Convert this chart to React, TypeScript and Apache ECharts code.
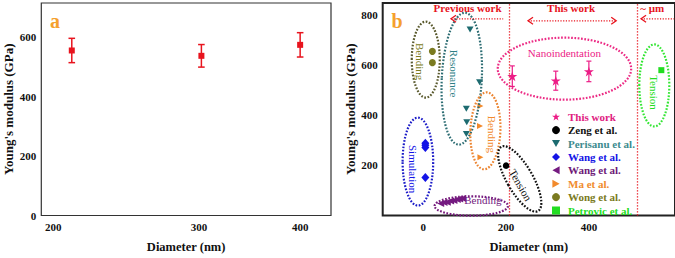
import React, { useEffect, useRef } from "react";
import * as echarts from "echarts";

const SERIF = "'Liberation Serif', 'Times New Roman', serif";

// ---- data ----
const diameters = [215, 320, 400];
const modulus = [556, 538, 575];
const modulusErr = [41, 38, 41];

const zeng = [[200, 199]];
const perisanu = [[113, 742], [136, 532], [104, 426], [105, 372], [104, 325]];
const wangSim = [[5, 288], [5, 280], [5, 271], [5, 152]];
const wangBend = [[42, 48], [50, 52], [58, 53], [66, 58], [74, 60], [82, 64], [88, 66], [95, 68]];
const ma = [[138, 437], [137, 357], [138, 232]];
const wong = [[22, 655], [22, 610]];
const petrovic = [[575, 580]];

const xLabelPosA = [200, 318, 400];
const xLabelTextA = ["200", "300", "400"];
const yTicksA = [0, 200, 400, 600];
const xTicksB = [0, 200, 400];
const yTicksB = [200, 400, 600, 800];
const regionBounds = [207, 516];

// ---- colours ----
const C = {
  red: "#e8141e",
  pink: "#ec1c86",
  black: "#111111",
  teal: "#2f7f86",
  blue: "#1414e6",
  purple: "#741a80",
  orange: "#f28a2c",
  olive: "#7a7a20",
  green: "#22dd22",
  panel: "#f5a02e",
};

const STAR = "path://M50,0 L61.2,34.5 L97.6,34.5 L68.2,55.9 L79.4,90.5 L50,69.1 L20.6,90.5 L31.8,55.9 L2.4,34.5 L38.8,34.5 Z";
const TRI_DOWN = "path://M0,0 L10,0 L5,9 Z";
const TRI_LEFT = "path://M9,0 L9,10 L0,5 Z";
const TRI_RIGHT = "path://M0,0 L0,10 L9,5 Z";

// annotations (panel b, data coordinates)
const ellipses = [
  { c: [6, 622], rx: 14, ry: 38, rot: 0, color: "#5a5a2e" },
  { c: [93, 546], rx: 20, ry: 66, rot: -0.05, color: "#2d6d73" },
  { c: [150, 338], rx: 15, ry: 38.5, rot: -0.04, color: "#ec8430" },
  { c: [-13, 215], rx: 15.3, ry: 44, rot: 0, color: "#1c1cc8" },
  { c: [116, 38], rx: 36.7, ry: 9.7, rot: 0, color: "#761a7c" },
  { c: [233, 146], rx: 13, ry: 37, rot: 0.52, color: "#111111" },
  { c: [341, 586], rx: 66.7, ry: 31, rot: 0, color: "#ec2a84" },
  { c: [558, 519], rx: 15, ry: 41, rot: 0, color: "#33e633" },
];
const notes = [
  { text: "Bending", at: [-8, 614], rot: -90, color: C.olive, size: 11, bold: false },
  { text: "Resonance", at: [74, 566], rot: -90, color: C.teal, size: 11, bold: false },
  { text: "Bending", at: [165, 324], rot: -90, color: C.orange, size: 11, bold: false },
  { text: "Simulation", at: [-25, 185], rot: -90, color: C.blue, size: 11, bold: false },
  { text: "Bending", at: [144, 62], rot: 0, color: C.purple, size: 11, bold: false },
  { text: "Tension", at: [235, 122], rot: -60, color: C.black, size: 11, bold: false },
  { text: "Nanoindentation", at: [341, 650], rot: 0, color: C.pink, size: 11, bold: false },
  { text: "Tension", at: [558, 491], rot: -90, color: C.green, size: 11, bold: false },
  { text: "Previous work", at: [107, 828], rot: 0, color: C.red, size: 11, bold: true },
  { text: "This work", at: [357, 828], rot: 0, color: C.red, size: 11, bold: true },
  { text: "~ µm", at: [553, 828], rot: 0, color: C.red, size: 11, bold: true },
];
const arrows = [
  { from: 67, to: 193, y: 785, heads: ["start"] },
  { from: 253, to: 466, y: 777, heads: ["start", "end"] },
  { from: 526, to: 606, y: 785, heads: ["start"] },
];

const errBar = (color: string, cap: number, lw: number) => (_p: any, api: any) => {
  const x = api.value(0);
  const y = api.value(1);
  const e = api.value(2);
  const top = api.coord([x, y + e]);
  const bot = api.coord([x, y - e]);
  const style = { stroke: color, lineWidth: lw };
  return {
    type: "group",
    children: [
      { type: "line", shape: { x1: top[0], y1: top[1], x2: bot[0], y2: bot[1] }, style },
      { type: "line", shape: { x1: top[0] - cap, y1: top[1], x2: top[0] + cap, y2: top[1] }, style },
      { type: "line", shape: { x1: bot[0] - cap, y1: bot[1], x2: bot[0] + cap, y2: bot[1] }, style },
    ],
  };
};

const tickLabel = {
  fontFamily: SERIF,
  fontSize: 11,
  fontWeight: "bold" as const,
  color: "#111",
};
const axisName = {
  fontFamily: SERIF,
  fontSize: 12.5,
  fontWeight: "bold" as const,
  color: "#111",
};

export default function App() {
  const ref = useRef<HTMLDivElement>(null);
  useEffect(() => {
    if (!ref.current) return;
    const chart = echarts.init(ref.current, undefined, { renderer: "svg" });
    const thisWork = diameters.map((d, i) => [d, modulus[i]]);
    const errData = diameters.map((d, i) => [d, modulus[i], modulusErr[i]]);
    const sc = (name: string, data: number[][], symbol: string, size: any, color: string, extra: any = {}) => ({
      type: "scatter",
      name,
      xAxisIndex: 1,
      yAxisIndex: 1,
      data,
      symbol,
      symbolSize: size,
      itemStyle: { color, opacity: 1 },
      z: 5,
      ...extra,
    });
    const legendItems = [
      { name: "This work", color: "#e0207f" },
      { name: "Zeng et al.", color: "#111111" },
      { name: "Perisanu et al.", color: "#3d8b8e" },
      { name: "Wang et al. (sim)", color: "#1414e6" },
      { name: "Wang et al. (bend)", color: "#6e1a78" },
      { name: "Ma et al.", color: "#f08c2e" },
      { name: "Wong et al.", color: "#7a7a22" },
      { name: "Petrovic et al.", color: "#22dd22" },
    ];
    chart.setOption({
      animation: false,
      grid: [
        { left: 41.3, top: 3, width: 289.7, height: 213.7, show: true, borderColor: "#333", borderWidth: 1.2, backgroundColor: "transparent" },
        { left: 382.7, top: 3, width: 293, height: 213.7, show: true, borderColor: "#222", borderWidth: 2, backgroundColor: "transparent" },
      ],
      xAxis: [
        {
          gridIndex: 0, type: "value", min: 190.3, max: 425,
          axisLine: { show: false }, axisTick: { show: false }, splitLine: { show: false },
          axisLabel: {
            ...tickLabel, margin: 6, customValues: xLabelPosA,
            formatter: (v: number) => xLabelTextA[xLabelPosA.indexOf(v)] ?? "",
          },
          name: "Diameter (nm)", nameLocation: "middle", nameGap: 24.5, nameTextStyle: axisName,
        },
        {
          gridIndex: 1, type: "value", min: -98, max: 608,
          axisLine: { show: false }, axisTick: { show: false }, splitLine: { show: false },
          axisLabel: { ...tickLabel, margin: 6, customValues: xTicksB },
          name: "Diameter (nm)", nameLocation: "middle", nameGap: 24.5, nameTextStyle: axisName,
        },
      ],
      yAxis: [
        {
          gridIndex: 0, type: "value", min: 0, max: 716,
          axisLine: { show: false }, axisTick: { show: false }, splitLine: { show: false },
          axisLabel: { ...tickLabel, margin: 5, customValues: yTicksA },
          name: "Young's modulus (GPa)", nameLocation: "middle", nameGap: 26, nameTextStyle: { ...axisName, fontSize: 13 },
        },
        {
          gridIndex: 1, type: "value", min: 0, max: 848,
          axisLine: { show: false }, axisTick: { show: false }, splitLine: { show: false },
          axisLabel: { ...tickLabel, margin: 5, customValues: yTicksB },
          name: "Young's modulus (GPa)", nameLocation: "middle", nameGap: 26, nameTextStyle: { ...axisName, fontSize: 13 },
        },
      ],
      legend: {
        orient: "vertical",
        left: 552,
        top: 111.2,
        padding: 0,
        itemWidth: 8,
        itemHeight: 8,
        itemGap: 2.4,
        selectedMode: false,
        formatter: (n: string) => n.replace(/ \(.*\)$/, ""),
        textStyle: { fontFamily: SERIF, fontSize: 11, fontWeight: "bold", padding: [0, 0, 0, 3] },
        data: legendItems.map((l) => ({ name: l.name, textStyle: { color: l.color } })),
      },
      series: [
        {
          type: "custom", name: "err a", xAxisIndex: 0, yAxisIndex: 0, data: errData,
          renderItem: errBar(C.red, 3.3, 1.5), silent: true, z: 3,
        },
        {
          type: "scatter", name: "panel a", xAxisIndex: 0, yAxisIndex: 0, data: thisWork,
          symbol: "rect", symbolSize: 6, itemStyle: { color: C.red, opacity: 1 }, z: 4,
        },
        {
          type: "custom", name: "err b", xAxisIndex: 1, yAxisIndex: 1, data: errData,
          renderItem: errBar(C.pink, 2.5, 1.2), silent: true, z: 3,
        },
        sc("This work", thisWork, STAR, 10, C.pink, {
          markLine: {
            silent: true,
            symbol: ["none", "none"],
            label: { show: false },
            lineStyle: { color: C.red, type: [1.2, 1.8], width: 1.3 },
            data: regionBounds.map((x) => ({ xAxis: x })),
          },
        }),
        sc("Zeng et al.", zeng, "circle", 6.5, "#000000"),
        sc("Perisanu et al.", perisanu, TRI_DOWN, [7, 6], "#1d6b70"),
        sc("Wang et al. (sim)", wangSim, "diamond", [8, 9], C.blue),
        sc("Wang et al. (bend)", wangBend, TRI_LEFT, [7, 7], C.purple),
        sc("Ma et al.", ma, TRI_RIGHT, [6, 6], C.orange),
        sc("Wong et al.", wong, "circle", 7, C.olive),
        sc("Petrovic et al.", petrovic, "rect", 6, C.green),
      ],
    });

    const toPx = (p: number[]) => chart.convertToPixel({ gridIndex: 1 } as any, p) as unknown as number[];
    const graphics: any[] = [];
    ellipses.forEach((e) => {
      const [cx, cy] = toPx(e.c);
      graphics.push({
        type: "ellipse", x: cx, y: cy, rotation: e.rot, silent: true,
        shape: { cx: 0, cy: 0, rx: e.rx, ry: e.ry },
        style: { fill: "transparent", stroke: e.color, lineWidth: 2.2, lineDash: [1.7, 1.6] },
        z: 10,
      });
    });
    notes.forEach((n) => {
      const [x, y] = toPx(n.at);
      graphics.push({
        type: "text", x, y, rotation: (n.rot * Math.PI) / 180, silent: true, z: 11,
        style: {
          text: n.text, fill: n.color,
          font: `${n.bold ? "bold " : ""}${n.size}px ${SERIF}`,
          align: "center", verticalAlign: "middle", textAlign: "center", textVerticalAlign: "middle",
        },
      });
    });
    arrows.forEach((a) => {
      const [x1, y] = toPx([a.from, a.y]);
      const [x2] = toPx([a.to, a.y]);
      const st = { stroke: C.red, lineWidth: 1.3, fill: null };
      graphics.push({
        type: "polyline", silent: true, z: 11,
        shape: { points: [[x1, y], [x2, y]] },
        style: { ...st, lineDash: [1.2, 1.5] },
      });
      if (a.heads.includes("start")) {
        graphics.push({ type: "polyline", silent: true, z: 11, shape: { points: [[x1 + 5, y - 3.5], [x1, y], [x1 + 5, y + 3.5]] }, style: st });
      }
      if (a.heads.includes("end")) {
        graphics.push({ type: "polyline", silent: true, z: 11, shape: { points: [[x2 - 5, y - 3.5], [x2, y], [x2 - 5, y + 3.5]] }, style: st });
      }
    });
    graphics.push({
      type: "text", x: 55, y: 21, silent: true, z: 11,
      style: { text: "a", fill: C.panel, font: `bold 20px ${SERIF}`, align: "center", verticalAlign: "middle", textAlign: "center", textVerticalAlign: "middle" },
    });
    graphics.push({
      type: "text", x: 397, y: 21, silent: true, z: 11,
      style: { text: "b", fill: C.panel, font: `bold 20px ${SERIF}`, align: "center", verticalAlign: "middle", textAlign: "center", textVerticalAlign: "middle" },
    });
    chart.setOption({ graphic: graphics });

    return () => chart.dispose();
  }, []);
  return (
    <div
      ref={ref}
      style={{ position: "absolute", left: 0, top: 0, width: 675, height: 258, background: "#fff" }}
    />
  );
}
